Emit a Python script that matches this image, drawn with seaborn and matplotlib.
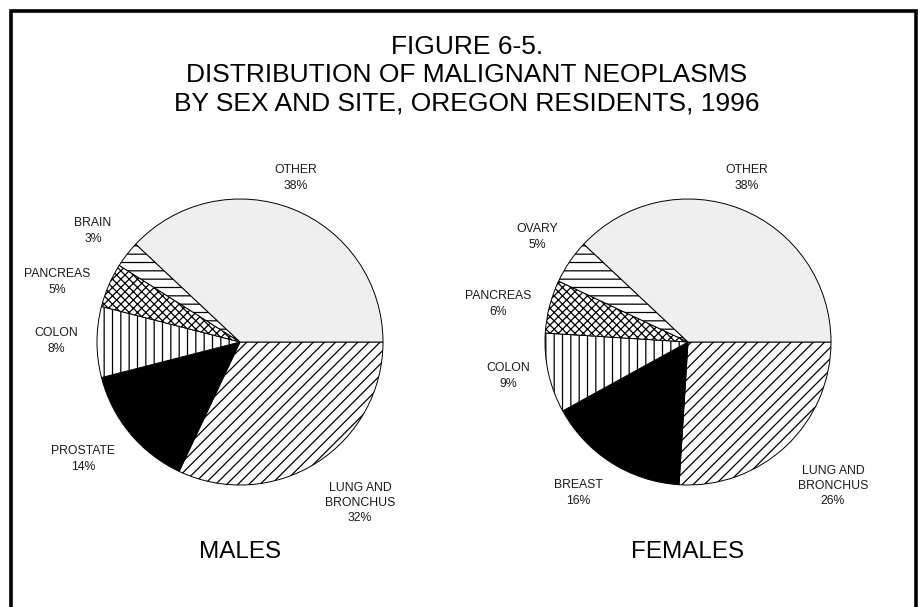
import numpy as np
import matplotlib
matplotlib.use("Agg")
import matplotlib.pyplot as plt
from matplotlib.lines import Line2D
import seaborn as sns

sns.set_style("white")
plt.rcParams['font.family'] = ['Liberation Sans', 'DejaVu Sans']
plt.rcParams['hatch.linewidth'] = 0.9

# data
male_sites = ['LUNG AND\nBRONCHUS', 'PROSTATE', 'COLON', 'PANCREAS', 'BRAIN', 'OTHER']
male_pct = [32, 14, 8, 5, 3, 38]
female_sites = ['LUNG AND\nBRONCHUS', 'BREAST', 'COLON', 'PANCREAS', 'OVARY', 'OTHER']
female_pct = [26, 16, 9, 6, 5, 38]

# label positions (pixels in the 918x607 frame)
male_label_px = [(360, 503), (83, 459), (56, 341), (57, 282), (93, 231), (296, 178)]
female_label_px = [(833, 486), (578, 493), (508, 376), (498, 304), (537, 237), (747, 178)]

fills = ['white', 'black', 'white', 'white', 'white', '#efefef']
hatches = ['///', None, '||', 'xxxx', '--', None]

W, H = 918, 607
R = 143  # pie radius in px
centers = [(240, 342), (688, 342)]

fig = plt.figure(figsize=(W / 100, H / 100), dpi=100)


def draw_pie(center, pct, sites, label_px, caption):
    cx, cy = center
    ax = fig.add_axes([(cx - R) / W, (H - cy - R) / H, 2 * R / W, 2 * R / H])
    wedges, _ = ax.pie(pct, startangle=0, counterclock=False, colors=fills,
                       wedgeprops=dict(edgecolor='black', linewidth=0.7))
    for w, h in zip(wedges, hatches):
        if h:
            w.set_hatch(h)
    ax.set_xlim(-1, 1)
    ax.set_ylim(-1, 1)
    ax.set_aspect('equal')
    ax.axis('off')
    for site, p, (lx, ly) in zip(sites, pct, label_px):
        ax.text((lx - cx) / R, (cy - ly) / R, f"{site}\n{p}%", ha='center', va='center',
                fontsize=8.8, color='#1a1a1a', linespacing=1.35, clip_on=False)
    ax.text(0, (cy - 552) / R, caption, ha='center', va='center', fontsize=17.5,
            color='black', clip_on=False)


draw_pie(centers[0], male_pct, male_sites, male_label_px, 'MALES')
draw_pie(centers[1], female_pct, female_sites, female_label_px, 'FEMALES')

title_lines = ['FIGURE 6-5.', 'DISTRIBUTION OF MALIGNANT NEOPLASMS',
               'BY SEX AND SITE, OREGON RESIDENTS, 1996']
for i, line in enumerate(title_lines):
    fig.text(467 / W, 1 - (47 + 28 * i) / H, line, ha='center', va='center',
             fontsize=19, color='black')

# frame around the figure (left, top, right)
fig.add_artist(Line2D([11 / W, 11 / W, 916 / W, 916 / W],
                      [0, 1 - 10.5 / H, 1 - 10.5 / H, 0],
                      transform=fig.transFigure, color='black', linewidth=2.6,
                      solid_joinstyle='miter'))

fig.savefig('out.png', dpi=100, facecolor='white')
